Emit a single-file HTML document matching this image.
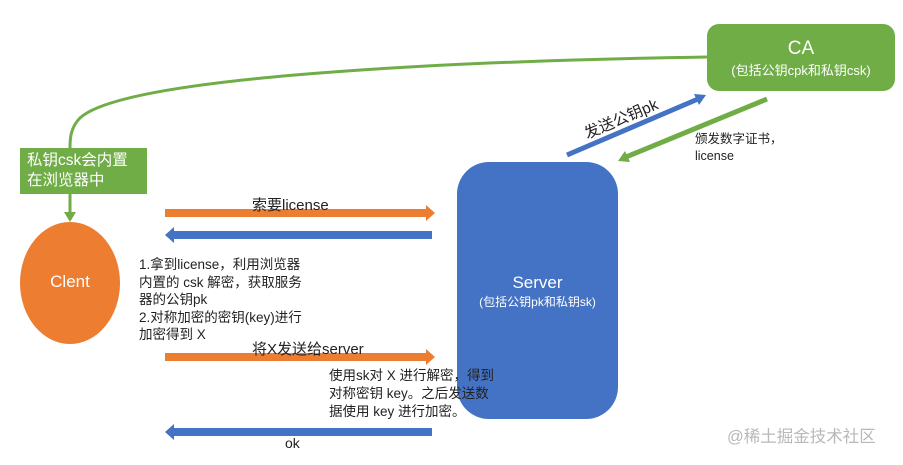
<!DOCTYPE html>
<html><head><meta charset="utf-8"><style>
body{margin:0;width:903px;height:465px;background:#fff;overflow:hidden;font-family:"Liberation Sans","Noto Sans CJK SC",sans-serif}
svg{position:absolute;left:0;top:0}
.t{position:absolute;font-size:13px;line-height:17px;color:#222;white-space:nowrap}
</style></head><body>
<svg width="903" height="465">
<path d="M707,57 C400,62 120,80 80,118 C70,128 70,140 70,148" fill="none" stroke="#70AD47" stroke-width="3"/>
<line x1="70" y1="194" x2="70" y2="214" stroke="#70AD47" stroke-width="3"/>
<polygon points="64,212 76,212 70,222" fill="#70AD47"/>
<rect x="707" y="24" width="188" height="67" rx="12" fill="#70AD47"/>
<rect x="457" y="162" width="161" height="257" rx="32" fill="#4472C4"/>
<ellipse cx="70" cy="283" rx="50" ry="61" fill="#ED7D31"/>
<rect x="20" y="148" width="127" height="46" fill="#70AD47"/>
<rect x="165" y="209" width="261" height="8" fill="#ED7D31"/><polygon points="426,205 435,213 426,221" fill="#ED7D31"/>
<rect x="174" y="231" width="258" height="8" fill="#4472C4"/><polygon points="174,227 165,235 174,243" fill="#4472C4"/>
<rect x="165" y="353" width="261" height="8" fill="#ED7D31"/><polygon points="426,349 435,357 426,365" fill="#ED7D31"/>
<rect x="174" y="428" width="258" height="8" fill="#4472C4"/><polygon points="174,424 165,432 174,440" fill="#4472C4"/>
<line x1="567" y1="155" x2="698" y2="99" stroke="#4472C4" stroke-width="5"/><polygon points="706,95 694,94 699,105" fill="#4472C4"/>
<line x1="767" y1="99" x2="626" y2="157" stroke="#70AD47" stroke-width="5"/><polygon points="618,161 625,151 630,162" fill="#70AD47"/>
</svg>
<div class="t" style="left:707px;top:38px;width:188px;text-align:center;color:#fff;font-size:19px;line-height:22px">CA</div>
<div class="t" style="left:707px;top:62px;width:188px;text-align:center;color:#fff;font-size:13px">(包括公钥cpk和私钥csk)</div>
<div class="t" style="left:27px;top:151px;color:#fff;font-size:15.5px;line-height:20px">私钥csk会内置<br>在浏览器中</div>
<div class="t" style="left:20px;top:273px;width:100px;text-align:center;color:#fff;font-size:17px">Clent</div>
<div class="t" style="left:457px;top:274px;width:161px;text-align:center;color:#fff;font-size:17px">Server</div>
<div class="t" style="left:457px;top:294px;width:161px;text-align:center;color:#fff;font-size:12px">(包括公钥pk和私钥sk)</div>
<div class="t" style="left:252px;top:197px;font-size:15px">索要license</div>
<div class="t" style="left:139px;top:256px;font-size:13.5px;line-height:17.5px">1.拿到license，利用浏览器<br>内置的 csk 解密，获取服务<br>器的公钥pk<br>2.对称加密的密钥(key)进行<br>加密得到 X</div>
<div class="t" style="left:252px;top:341px;font-size:15px">将X发送给server</div>
<div class="t" style="left:329px;top:367px;font-size:13.5px;line-height:18px">使用sk对 X 进行解密，得到<br>对称密钥 key。之后发送数<br>据使用 key 进行加密。</div>
<div class="t" style="left:285px;top:435px;font-size:14px">ok</div>
<div class="t" style="left:695px;top:131px;font-size:12.5px;line-height:17px">颁发数字证书，<br>license</div>
<div class="t" style="left:582px;top:127px;font-size:15.5px;transform:rotate(-23deg);transform-origin:0 0">发送公钥pk</div>
<div class="t" style="left:727px;top:429px;font-size:16.5px;color:#b8b8b8">@稀土掘金技术社区</div>
</body></html>
